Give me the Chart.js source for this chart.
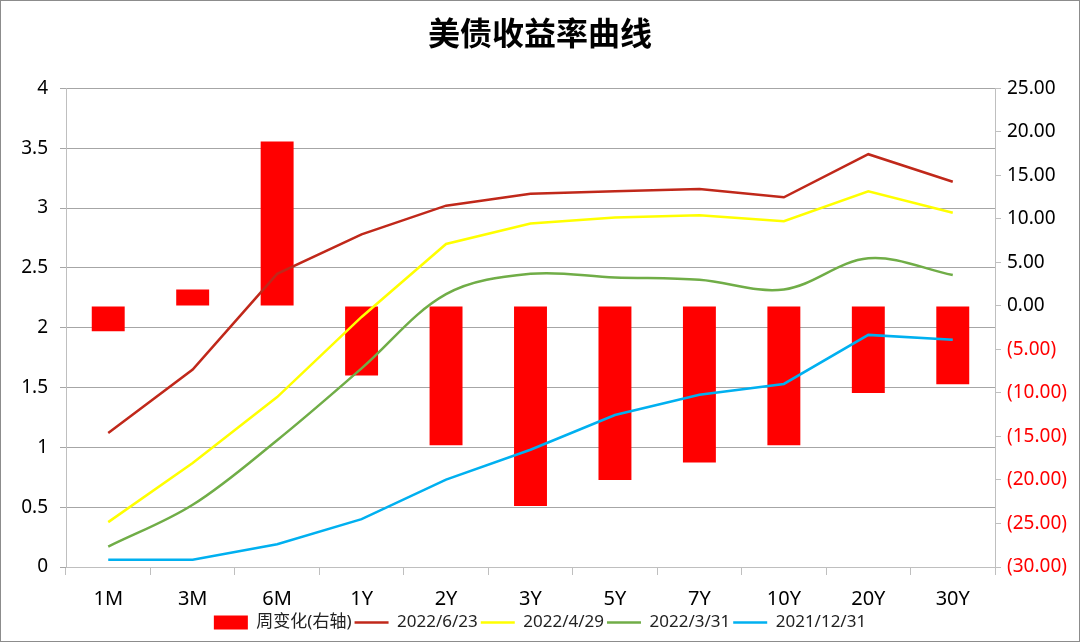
<!DOCTYPE html>
<html>
<head>
<meta charset="utf-8">
<script src="https://cdn.jsdelivr.net/npm/chart.js@4/dist/chart.umd.min.js"></script>
<style>
  html, body { margin: 0; padding: 0; background: #fff; }
  #wrap { width: 1080px; height: 642px; box-sizing: border-box; border: 1px solid #8c8c8c; }
  canvas { display: block; }
</style>
</head>
<body>
<div id="wrap"><canvas id="chart" width="1078" height="640"></canvas></div>
<script>
// --- Data ---
const tenors = ['1M', '3M', '6M', '1Y', '2Y', '3Y', '5Y', '7Y', '10Y', '20Y', '30Y'];
const weeklyChange = [-2.9, 1.9, 18.9, -8.0, -16.0, -23.0, -20.0, -18.0, -16.0, -10.0, -9.0];
const y20220623 = [1.12, 1.65, 2.45, 2.78, 3.02, 3.12, 3.14, 3.16, 3.09, 3.45, 3.22];
const y20220429 = [0.375, 0.87, 1.42, 2.09, 2.70, 2.87, 2.92, 2.94, 2.89, 3.14, 2.96];
const y20220331 = [0.17, 0.52, 1.06, 1.66, 2.28, 2.45, 2.42, 2.40, 2.32, 2.58, 2.44];
const y20211231 = [0.06, 0.06, 0.19, 0.40, 0.73, 0.98, 1.27, 1.44, 1.53, 1.94, 1.90];

const FONT = "'Noto Sans', 'Noto Sans CJK SC', sans-serif";
const AXIS_GRAY = '#bfbfbf';

function lineSet(label, data, color, order, tension) {
  return {
    type: 'line', label, data, yAxisID: 'y', order,
    borderColor: color, backgroundColor: color,
    borderWidth: 2.5, pointRadius: 0, pointStyle: 'line',
    tension: tension || 0, fill: false
  };
}

// money-style labels for the right axis: negatives in parentheses
function fmtRight(v) {
  return v < 0 ? '(' + (-v).toFixed(2) + ')' : v.toFixed(2);
}

new Chart(document.getElementById('chart'), {
  data: {
    labels: tenors,
    datasets: [
      {
        type: 'bar', label: '周变化(右轴)', data: weeklyChange, yAxisID: 'y1', order: 10,
        backgroundColor: '#ff0000', borderWidth: 0, pointStyle: 'rect',
        barPercentage: 0.39, categoryPercentage: 1
      },
      lineSet('2022/6/23', y20220623, '#c0281a', 1),
      lineSet('2022/4/29', y20220429, '#ffff00', 2),
      lineSet('2022/3/31', y20220331, '#70ad47', 3, 0.35),
      lineSet('2021/12/31', y20211231, '#00b0f0', 4)
    ]
  },
  options: {
    responsive: false,
    animation: false,
    layout: { padding: { left: 0, right: 0, top: 0, bottom: 0 } },
    plugins: {
      title: {
        display: true, text: '美债收益率曲线', color: '#000',
        font: { family: FONT, size: 32, weight: 'bold' },
        padding: { top: 16, bottom: 33 }
      },
      legend: {
        position: 'bottom',
        labels: {
          usePointStyle: true, pointStyleWidth: 34, boxHeight: 14,
          color: '#222', padding: 3,
          font: { family: FONT, size: 17 },
          sort: (a, b) => a.datasetIndex - b.datasetIndex
        }
      },
      tooltip: { enabled: false }
    },
    scales: {
      x: {
        offset: true,
        grid: { offset: true, drawOnChartArea: false, drawTicks: true, tickLength: 8, color: AXIS_GRAY },
        border: { color: AXIS_GRAY },
        ticks: { color: '#000', padding: 12, font: { family: FONT, size: 20 } },
        afterFit: s => { s.height = 44; }
      },
      y: {
        position: 'left', min: 0, max: 4,
        ticks: { stepSize: 0.5, color: '#000', padding: 12, font: { family: FONT, size: 19 }, callback: v => String(v) },
        grid: { color: '#a6a6a6', tickLength: 6 },
        border: { color: AXIS_GRAY },
        afterFit: s => { s.width = 65; }
      },
      y1: {
        position: 'right', min: -30, max: 25,
        ticks: {
          stepSize: 5, padding: 6, font: { family: FONT, size: 19 },
          color: ctx => (ctx.tick && ctx.tick.value < 0 ? '#ff0000' : '#000'),
          callback: v => fmtRight(v)
        },
        grid: { drawOnChartArea: false, tickLength: 6, color: AXIS_GRAY },
        border: { color: AXIS_GRAY },
        afterFit: s => { s.width = 84; }
      }
    }
  }
});
</script>
</body>
</html>
